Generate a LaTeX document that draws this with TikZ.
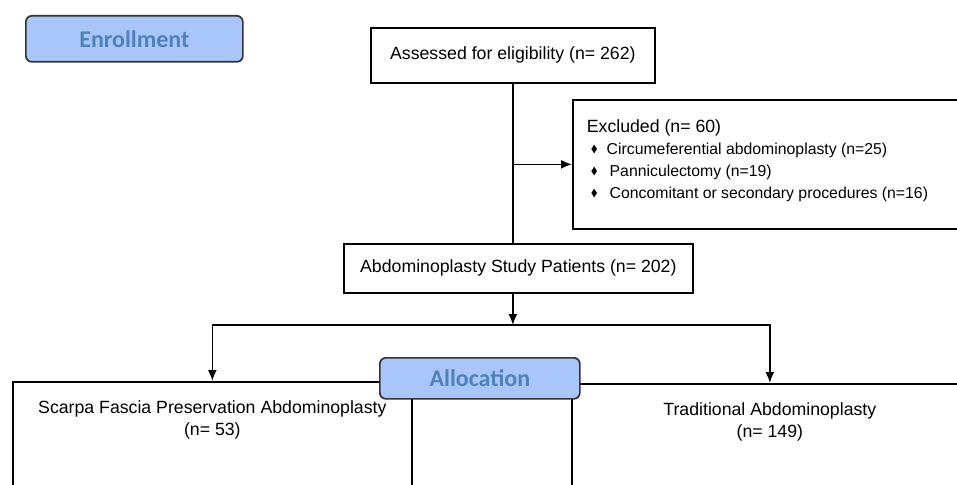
\documentclass[tikz,border=0pt]{standalone}
\usepackage{fontspec}
\usepackage{amssymb}
\setmainfont{Liberation Sans}
\newfontfamily\headfont{Carlito}
\usetikzlibrary{arrows.meta,positioning}
\definecolor{headfill}{RGB}{168,198,250}
\definecolor{headtext}{RGB}{79,129,189}
\newcommand{\dmd}{\hspace*{4pt}\raisebox{2pt}{\scalebox{0.65}{$\blacklozenge$}}}
\newcommand{\itemfont}{\fontsize{15.8}{23}\selectfont}

\begin{document}
\begin{tikzpicture}[x=1pt, y=-1pt, font=\fontsize{17.7}{22}\selectfont,
  block/.style={rectangle, draw, line width=1.7pt, fill=white, inner sep=0pt},
  big block/.style={block, align=center},
  phase/.style={rectangle, rounded corners=6pt, draw=black!80, line width=1.7pt,
    fill=headfill, text=headtext, font=\headfont\bfseries\fontsize{24}{28}\selectfont},
  caption/.style={inner sep=0pt, align=center},
  line/.style={draw, line width=1.7pt, -{Latex[length=11pt, width=9pt]}},
  ]
  \clip (0,0) rectangle (957,484);

  \node [phase, minimum width=217, minimum height=46, anchor=north west] (enrollment) at (25,15) {Enrollment};
  \node [big block, minimum width=284, minimum height=55, anchor=north west] (assessed) at (370,27)
    {Assessed for eligibility (n= 262)};
  \node [block, minimum width=395, minimum height=129, anchor=north west, align=flush left,
    inner xsep=14pt, text width=367] (excluded) at (572,99)
    {Excluded (n= 60)\\
     {\itemfont\dmd\hspace{9pt}Circumeferential abdominoplasty (n=25)}\\
     {\itemfont\dmd\hspace{12pt}Panniculectomy (n=19)}\\
     {\itemfont\dmd\hspace{12pt}Concomitant or secondary procedures (n=16)}\\[-11pt]\mbox{}};
  \node [big block, minimum width=349, minimum height=49, anchor=north west] (study) at (343,243)
    {Abdominoplasty Study Patients (n= 202)};

  \node [block, minimum width=399, minimum height=200, anchor=north west] (scarpa) at (12,381) {};
  \node [caption, below=19pt of scarpa.north] (scarpa text)
    {Scarpa Fascia Preservation Abdominoplasty\\(n= 53)};
  \node [block, minimum width=396, minimum height=200, anchor=north west] (trad) at (571,383) {};
  \node [caption, below=19pt of trad.north] (trad text)
    {Traditional Abdominoplasty\\(n= 149)};

  \node [phase, minimum width=200, minimum height=41, anchor=north west] (allocation) at (379,357) {Allocation};

  % connectors:
  \coordinate (split) at (assessed.south |- excluded.west);
  \coordinate (branch) at (assessed.south |- 0,325);
  \draw [line width=1.7pt] (assessed.south) -- (study.north -| assessed.south);
  \path [line] (split) -- (excluded.west);
  \path [line] (study.south -| assessed.south) -- (branch);
  \path [line] (branch) -| (scarpa.north);
  \path [line] (branch) -| (trad.north);
\end{tikzpicture}
\end{document}
